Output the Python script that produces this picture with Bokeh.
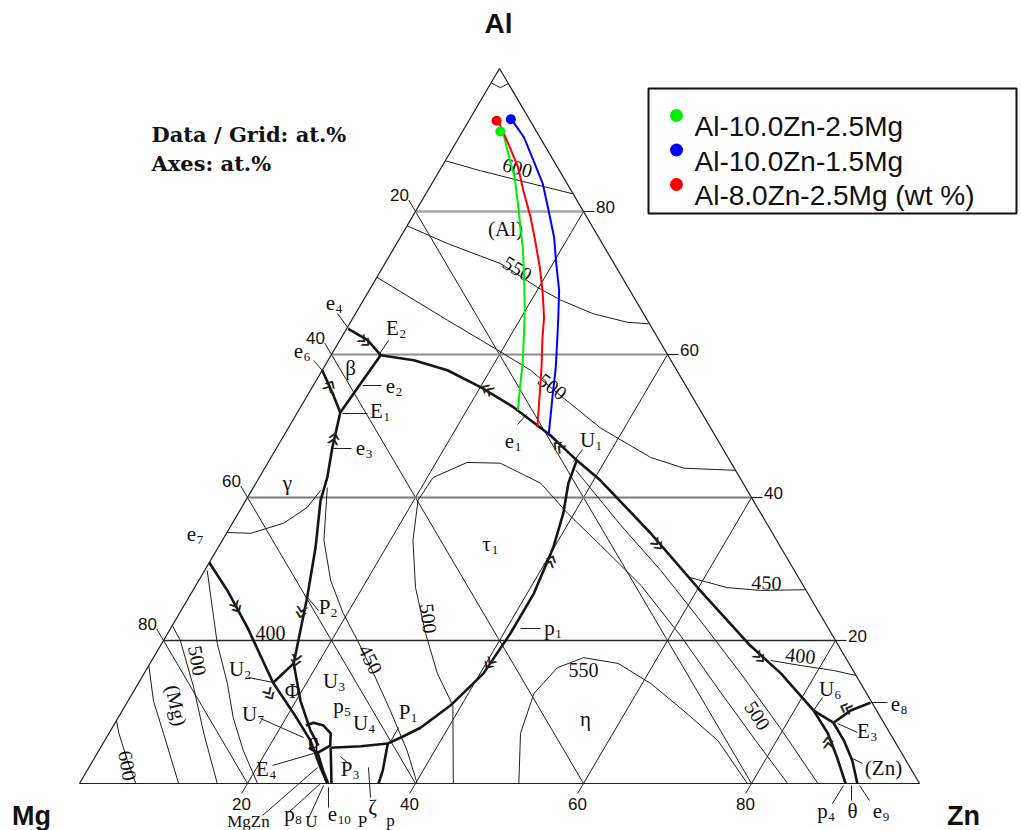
import numpy as np
from bokeh.plotting import figure
from bokeh.models import Range1d
from bokeh.embed import file_html
from bokeh.resources import INLINE
from bokeh.core.properties import value

# ---------------- data: compositions in at.% as (Zn, Al); Mg = 100 - Zn - Al ----------------
grid_levels = [20, 40, 60, 80]
tick_labels = ["20", "40", "60", "80"]

alloy_names = ["Al-10.0Zn-2.5Mg", "Al-10.0Zn-1.5Mg", "Al-8.0Zn-2.5Mg (wt %)"]
alloy_colors = ["#00ee00", "#0000ff", "#ff0000"]
alloy_start = [(4.5, 91.2), (4.9, 92.9), (3.3, 92.7)]
green_path = [(4.5, 91.2), (5.0, 90.9), (6.0, 89.5), (7.7, 87.1), (9.4, 84.8), (11.4, 81.5), (13.3, 78.3),
              (15.5, 74.6), (18.0, 69.9), (19.9, 66.2), (21.7, 62.4), (23.4, 58.7), (24.9, 55.0), (26.1, 52.2)]
blue_path = [(4.9, 92.9), (5.4, 92.5), (7.7, 90.4), (10.5, 87.1), (13.2, 83.9), (15.8, 80.1), (18.3, 76.4),
             (20.4, 72.7), (22.6, 69.0), (24.4, 65.2), (26.1, 61.5), (27.6, 58.2), (29.3, 54.0), (31.5, 48.7)]
red_path = [(3.3, 92.7), (4.1, 92.0), (6.3, 89.5), (9.1, 86.2), (11.4, 82.9), (14.1, 79.2), (16.3, 75.9),
            (18.7, 72.2), (20.9, 68.5), (22.7, 65.2), (24.1, 62.0), (25.9, 58.2), (27.5, 54.6), (29.6, 49.8)]

# liquidus valleys (thick)
valley_main = [(5.9, 59.9), (10.2, 59.2), (14.9, 57.8), (20.1, 55.4), (25.4, 52.6), (31.7, 48.7), (36.6, 45.2),
               (40.8, 42.4), (50.5, 35.0), (60.5, 26.9), (70.2, 19.3), (75.8, 15.4), (82.3, 10.2)]
valley_u6_down = [(82.3, 10.2), (85.6, 7.0), (88.4, 3.6), (91.2, 0.0)]
valley_u6_e3 = [(82.3, 10.2), (85.5, 8.5)]
valley_e3_down = [(85.5, 8.5), (88.0, 6.0), (90.4, 3.2), (92.6, 0.0)]
valley_e3_e8 = [(85.5, 8.5), (86.7, 10.2), (88.5, 11.3)]
valley_e4 = [(0.2, 63.6), (3.3, 62.0), (5.9, 59.9)]
valley_e2e1 = [(5.9, 59.9), (5.5, 55.9), (5.1, 51.9)]
valley_e6 = [(0.0, 57.8), (2.9, 54.5), (5.1, 51.9)]
valley_e1_down = [(5.1, 51.9), (6.6, 47.0), (8.1, 42.8), (8.9, 39.6), (11.6, 33.0), (14.1, 26.0), (15.6, 21.4),
                  (17.1, 16.8), (20.5, 11.6), (23.8, 7.4), (25.8, 5.3)]
valley_p2_u2 = [(17.1, 16.8), (16.0, 14.1)]
valley_e7 = [(0.0, 30.9), (4.1, 27.0), (9.1, 21.8), (16.0, 14.1), (20.6, 9.8), (24.5, 6.0), (27.6, 2.2), (29.5, 0.0)]
valley_q = [(22.9, 8.1), (23.6, 8.5), (25.0, 8.1), (26.4, 7.0), (27.2, 5.3), (26.2, 4.3), (24.8, 5.0)]
valley_p3_p1 = [(27.4, 5.0), (30.9, 5.2), (33.9, 5.6)]
valley_p1_u1 = [(33.9, 5.6), (35.0, 6.4), (36.7, 7.8), (38.7, 10.9), (40.4, 15.4), (40.8, 21.0), (40.8, 26.6),
                (39.9, 33.0), (38.7, 37.8), (37.2, 42.0), (36.6, 45.2)]
valley_p1_down = [(33.9, 5.6), (35.2, 1.8), (35.6, 0.0)]
valley_q_down = [(26.2, 4.3), (28.1, 1.8), (29.6, 0.0)]
valley_p3_down = [(27.4, 5.0), (30.0, 0.0)]

# isotherms and phase boundaries (thin)
iso_apex = [(0.0, 98.0), (1.45, 97.3), (2.1, 97.9)]
iso_600_al = [(0.0, 87.1), (4.9, 85.7), (10.3, 84.3), (17.4, 82.5)]
iso_550_al = [(0.0, 78.0), (6.1, 75.5), (13.8, 72.7), (19.8, 69.4), (23.5, 67.6), (28.3, 65.7), (33.0, 64.5), (35.6, 64.3)]
iso_500_al = [(0.0, 70.8), (11.4, 64.8), (19.5, 60.6), (24.8, 57.8), (29.6, 54.6), (37.2, 49.7), (45.2, 45.6),
              (49.9, 44.1), (56.2, 43.8)]
iso_450_zn = [(58.3, 28.8), (63.4, 27.4), (67.6, 27.0), (72.9, 27.1)]
iso_400_zn = [(73.7, 17.2), (77.6, 16.5), (81.9, 15.8), (84.9, 15.1)]
iso_500_tau = [(44.5, 0.0), (39.0, 10.9), (34.9, 15.4), (30.7, 21.0), (26.3, 27.4), (22.7, 34.0), (20.5, 39.6),
               (20.7, 42.8), (23.7, 44.9), (27.7, 44.8), (33.9, 42.0), (39.2, 37.8), (45.4, 33.3), (53.0, 27.7),
               (61.3, 20.6), (70.0, 12.7), (77.5, 6.0), (84.3, 0.0)]
line_tau_eta = [(37.2, 43.8), (46.4, 36.1), (54.3, 29.8), (62.5, 22.8), (70.9, 15.5), (79.5, 7.8), (87.9, 0.0)]
iso_550_eta = [(52.3, 0.0), (49.0, 7.0), (47.8, 12.6), (48.8, 16.2), (51.2, 17.6), (55.7, 16.8), (61.0, 14.0),
               (66.8, 10.2), (73.0, 6.0), (79.5, 0.0)]
iso_600_mg = [(6.7, 0.0), (4.1, 3.2), (1.2, 7.0), (0.0, 8.8)]
iso_mg = [(11.8, 0.0), (6.5, 7.0), (3.0, 11.6), (0.0, 16.5)]
iso_500_mg = [(16.4, 0.0), (11.3, 7.0), (6.9, 13.4), (2.0, 20.0), (0.0, 22.1)]
iso_450_mg = [(21.2, 0.0), (17.2, 4.6), (13.7, 9.2), (10.6, 14.0), (6.6, 19.6), (0.3, 29.8)]
iso_gamma = [(0.0, 35.1), (2.9, 35.0), (6.1, 36.4), (7.8, 38.6), (8.2, 41.0)]
iso_450_mid = [(8.8, 41.4), (12.1, 34.0), (15.7, 28.4), (19.4, 23.9), (23.1, 20.0), (27.3, 15.4), (31.9, 10.2),
               (36.7, 4.6), (40.2, 0.0)]

thick_curves = [valley_main, valley_u6_down, valley_u6_e3, valley_e3_down, valley_e3_e8, valley_e4, valley_e2e1,
                valley_e6, valley_e1_down, valley_p2_u2, valley_e7, valley_q, valley_p3_p1, valley_p1_u1,
                valley_p1_down, valley_q_down, valley_p3_down]
thin_curves = [iso_apex, iso_600_al, iso_550_al, iso_500_al, iso_450_zn, iso_400_zn, iso_500_tau, line_tau_eta,
               iso_550_eta, iso_600_mg, iso_mg, iso_500_mg, iso_450_mg, iso_gamma, iso_450_mid]

# ---------------- geometry ----------------
X0_PX, BASE_PX = 79, 783      # page position of the Mg corner
SX, SY = 8.4, 7.15            # pixels per at.% along x and y
W, H = 1021, 830


def tern(pts):
    zn = np.array([q[0] for q in pts], float)
    al = np.array([q[1] for q in pts], float)
    return zn + al / 2.0, al


def pg(px, py):
    return (px - X0_PX) / SX, (BASE_PX - py) / SY


p = figure(width=W, height=H, output_backend="svg", toolbar_location=None, min_border=0,
           x_axis_location=None, y_axis_location=None,
           x_range=Range1d((0 - X0_PX) / SX, (W - X0_PX) / SX),
           y_range=Range1d((BASE_PX - H) / SY, (BASE_PX - 0) / SY))
p.xgrid.visible = False
p.ygrid.visible = False
p.outline_line_color = None
p.background_fill_color = "white"
p.border_fill_color = "white"

INK = "#1e1e1e"

# grid
al_styles = {20: ("#2a2a2a", 1.6), 40: ("#7a7a7a", 1.8), 60: ("#8e8e8e", 2.0), 80: ("#a5a5a5", 2.4)}
for k in grid_levels:
    xs, ys = tern([(k, 0), (k, 100 - k)])
    p.line(xs, ys, line_color=INK, line_width=1.0)
    xs, ys = tern([(100 - k, 0), (0, 100 - k)])
    p.line(xs, ys, line_color=INK, line_width=1.0)
for k in grid_levels:
    xs, ys = tern([(0, k), (100 - k, k)])
    c, w = al_styles[k]
    p.line(xs, ys, line_color=c, line_width=w)

# triangle
xs, ys = tern([(0, 0), (100, 0), (0, 100), (0, 0)])
p.line(xs, ys, line_color=INK, line_width=1.2)

# ticks + tick labels
TICK_FONT = value("Liberation Sans")
for k, t in zip(grid_levels, tick_labels):
    xs, ys = tern([(0, 100 - k), (-1.6, 100 - k + 1.6)])
    p.line(xs, ys, line_color=INK, line_width=1.0)
    ex, ey = tern([(0, 100 - k)])
    p.text(x=[ex[0] - 16 / SX], y=[ey[0] + 17 / SY], text=[t], text_font=TICK_FONT, text_font_size="17px",
           text_align="center", text_baseline="middle", text_color="#111")
    xs, ys = tern([(100 - k, k), (100 - k + 1.3, k)])
    p.line(xs, ys, line_color=INK, line_width=1.2)
    ex, ey = tern([(100 - k, k)])
    p.text(x=[ex[0] + 22 / SX], y=[ey[0] + 5 / SY], text=[t], text_font=TICK_FONT, text_font_size="17px",
           text_align="center", text_baseline="middle", text_color="#111")
    xs, ys = tern([(k, 0), (k, -1.4)])
    p.line(xs, ys, line_color=INK, line_width=1.0)
    ex, ey = tern([(k, 0)])
    p.text(x=[ex[0] - 6 / SX], y=[ey[0] - 20 / SY], text=[t], text_font=TICK_FONT, text_font_size="17px",
           text_align="center", text_baseline="middle", text_color="#111")

for c in thin_curves:
    xs, ys = tern(c)
    p.line(xs, ys, line_color=INK, line_width=1.0)

for c in thick_curves:
    xs, ys = tern(c)
    p.line(xs, ys, line_color="#151515", line_width=2.6, line_join="round")

# leader lines (annotations, page px)
leaders = [((337, 313), (348, 328)), ((378, 355), (388, 340)), ((313, 360), (322, 370)), ((362, 385), (381, 385)),
           ((342, 413), (367, 413)), ((331, 448), (351, 448)), ((517, 424), (526, 414)), ((573, 461), (582, 449)),
           ((389, 743), (398, 727)), ((520, 628), (540, 628)), ((307, 597), (318, 610)), ((248, 677), (273, 682)),
           ((260, 718), (303, 737)), ((272, 765), (313, 753)), ((813, 710), (822, 697)), ((837, 723), (857, 732)),
           ((870, 702), (887, 702)), ((850, 757), (862, 763)), ((832, 803), (843, 785)), ((851, 785), (851, 800)),
           ((859, 785), (869, 800)), ((262, 815), (317, 767)), ((288, 812), (320, 783)), ((308, 818), (323, 785)),
           ((328, 807), (328, 787)), ((368, 767), (370, 797)), ((340, 756), (348, 763))]
for (a, b) in leaders:
    x1, y1 = pg(*a)
    x2, y2 = pg(*b)
    p.line([x1, x2], [y1, y2], line_color=INK, line_width=1.0)

SERIF = "Liberation Serif"


def label(txt, px, py, size=21, angle=0.0, align="center", baseline="middle", font=SERIF, style="normal",
          color="#111111"):
    x, y = pg(px, py)
    p.text(x=[x], y=[y], text=[txt], text_font=value(font), text_font_size=f"{size}px", text_align=align,
           text_baseline=baseline, angle=np.deg2rad(angle), text_font_style=style, text_color=color)


CHAR_W = {"e": 0.444, "E": 0.611, "U": 0.722, "P": 0.556, "p": 0.5, "τ": 0.45}


def sublabel(main, sub, cx, cy, size=21):
    label(main, cx, cy, size=size)
    if sub:
        w = CHAR_W.get(main, 0.5) * size
        label(sub, cx + w / 2 + 0.5, cy + 6, size=13, align="left")


phase_labels = [("e", "4", 330, 302), ("E", "2", 392, 327), ("e", "6", 298, 350), ("β", "", 350, 367),
                ("e", "2", 390, 385), ("E", "1", 376, 410), ("e", "3", 360, 447), ("γ", "", 287, 482),
                ("e", "7", 191, 533), ("P", "2", 324, 606), ("U", "2", 236, 668), ("Φ", "", 292, 690),
                ("U", "3", 330, 680), ("p", "5", 338, 705), ("U", "4", 360, 722), ("P", "1", 404, 711),
                ("U", "7", 249, 713), ("q", "", 313, 740), ("P", "3", 346, 768), ("E", "4", 262, 768),
                ("τ", "1", 486, 543), ("p", "1", 549, 627), ("η", "", 585, 718), ("U", "6", 826, 688),
                ("e", "8", 895, 703), ("E", "3", 863, 730), ("(Zn)", "", 883, 767), ("p", "4", 822, 810),
                ("θ", "", 852, 810), ("e", "9", 877, 810), ("U", "1", 587, 439), ("e", "1", 509, 440),
                ("(Al)", "", 505, 228), ("p", "8", 289, 813), ("e", "10", 332, 813), ("ζ", "", 372, 806)]
for m, s, cx, cy in phase_labels:
    sublabel(m, s, cx, cy)

# partly hidden labels at the very bottom edge
for t, cx, cy in [("MgZn", 248, 821), ("U", 311, 821), ("P", 362, 821), ("p", 390, 820)]:
    label(t, cx, cy, size=17)

iso_labels = [("600", 517, 167, -15), ("550", 517, 268, -32), ("500", 552, 386, -38), ("450", 766, 582, -2),
              ("400", 800, 655, -6), ("500", 757, 715, -57), ("550", 583, 669, 0), ("500", 428, 618, -83),
              ("450", 370, 659, -63), ("500", 197, 660, -80), ("(Mg)", 176, 705, -78), ("600", 127, 765, -80),
              ("400", 270, 632, 0)]
for t, cx, cy, ang in iso_labels:
    label(t, cx, cy, size=20, angle=ang)

# flow-direction chevrons on the valleys (annotations)
chevrons = [(365, 340, -42), (486, 390, 149), (658, 543, -49), (332, 438, 77), (302, 612, -100),
            (237, 606, -62), (549, 560, 66), (490, 664, -124), (760, 656, -47), (270, 693, -60),
            (826, 742, 95), (845, 709, 160), (297, 660, -100), (557, 447, 140), (328, 385, 60)]
for cx, cy, ang in chevrons:
    label("»", cx, cy, size=26, angle=ang, font="DejaVu Sans", color="#222222")

# corner labels
label("Al", 498, 23, size=28, font="Liberation Sans", style="bold")
label("Mg", 31, 815, size=27, font="Liberation Sans", style="bold")
label("Zn", 963, 815, size=27, font="Liberation Sans", style="bold")

# header text
label("Data / Grid: at.%", 151, 134, size=21, align="left", baseline="alphabetic", font="DejaVu Serif", style="bold")
label("Axes: at.%", 151, 163, size=21, align="left", baseline="alphabetic", font="DejaVu Serif", style="bold")

for path, col in zip([green_path, blue_path, red_path], alloy_colors):
    xs, ys = tern(path)
    p.line(xs, ys, line_color=col, line_width=2.0)
sx, sy = tern(alloy_start)
p.scatter(sx, sy, size=10, color=alloy_colors, line_color=None)

# legend box
lx0, ly0 = pg(648, 88)
lx1, ly1 = pg(1016, 213)
p.quad(left=[lx0], right=[lx1], top=[ly0], bottom=[ly1], fill_color="white", line_color="#111", line_width=2)
for i, (nm, col) in enumerate(zip(alloy_names, alloy_colors)):
    dy = 115 + 34.5 * i
    x, y = pg(676, dy)
    p.scatter([x], [y], size=13, color=col, line_color=None)
    label(nm, 694, dy + 11, size=28, align="left", baseline="alphabetic", font="Liberation Sans")

open("out.html", "w").write(file_html(p, INLINE))
